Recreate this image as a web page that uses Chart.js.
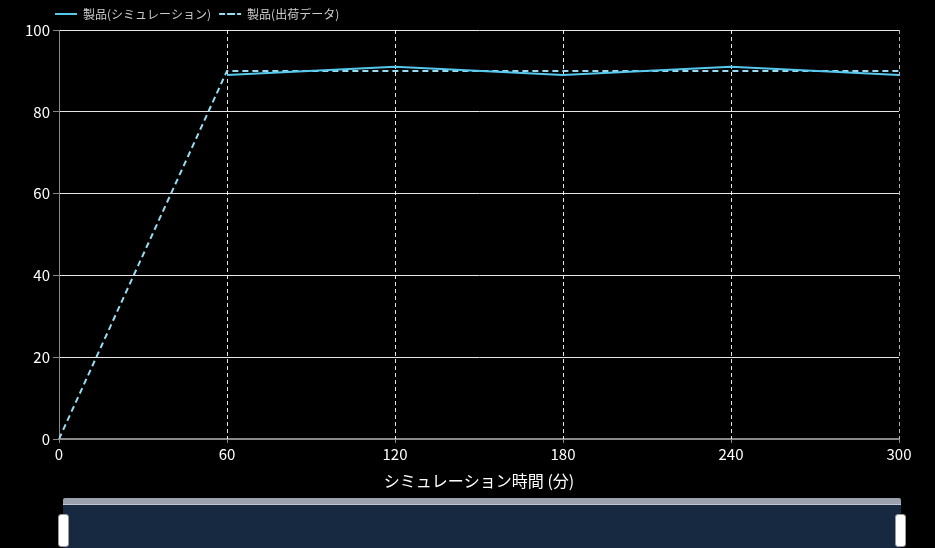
<!DOCTYPE html>
<html>
<head>
<meta charset="utf-8">
<script src="https://cdn.jsdelivr.net/npm/chart.js@4"></script>
<style>
  html, body { margin: 0; padding: 0; background: #000; overflow: hidden; }
  #wrap { position: relative; width: 935px; height: 548px; }
  #chart-box { position: absolute; left: 0; top: 0; width: 935px; height: 495px; }
  #nav-bar { position: absolute; left: 63px; top: 498px; width: 838px; height: 6px; background: #9aa0ad; border-radius: 2px 2px 0 0; }
  #nav-body { position: absolute; left: 63px; top: 504px; width: 838px; height: 44px; background: #172841; border-top: 1px solid #c0c8d8; }
  .handle { position: absolute; top: 514px; width: 9px; height: 31px; background: #fff; border-radius: 3px; border: 1px solid #999; }
</style>
</head>
<body>
<div id="wrap">
  <div id="chart-box"><canvas id="chart"></canvas></div>
  <div id="nav-bar"></div>
  <div id="nav-body"></div>
  <div class="handle" style="left:58px"></div>
  <div class="handle" style="left:895px"></div>
</div>
<script>
// 時間 (分)
const minutes = [0, 60, 120, 180, 240, 300];
// 系列 (シミュレーションは 60 分から)
const simulation = [null, 89, 91, 89, 91, 89];
const shipment = [0, 90, 90, 90, 90, 90];
const seriesLabels = ['製品(シミュレーション)', '製品(出荷データ)'];
const xTitle = 'シミュレーション時間 (分)';

const toPoints = values => values.map((v, i) => ({ x: minutes[i], y: v }));

Chart.defaults.font.family = '"Noto Sans CJK JP", "Noto Sans", sans-serif';
Chart.defaults.color = '#fff';

new Chart(document.getElementById('chart'), {
  type: 'line',
  data: {
    datasets: [{
      label: seriesLabels[0],
      data: toPoints(simulation),
      borderColor: '#56c8ee',
      backgroundColor: '#56c8ee',
      borderWidth: 2,
      pointRadius: 0,
      fill: false
    }, {
      label: seriesLabels[1],
      data: toPoints(shipment),
      borderColor: '#98dcf2',
      backgroundColor: '#98dcf2',
      borderWidth: 2,
      borderDash: [6, 4],
      pointRadius: 0,
      fill: false
    }]
  },
  options: {
    responsive: true,
    maintainAspectRatio: false,
    animation: false,
    layout: { padding: { left: 0, right: 36, top: 0, bottom: 0 } },
    plugins: {
      legend: {
        align: 'start',
        labels: {
          font: { size: 12 },
          color: '#ccc',
          boxWidth: 22,
          boxHeight: 0,
          padding: 8
        }
      },
      tooltip: { enabled: false }
    },
    scales: {
      x: {
        type: 'linear',
        min: 0,
        max: 300,
        ticks: { stepSize: 60, color: '#fff', font: { size: 15 }, padding: 2 },
        grid: { drawOnChartArea: false, tickColor: '#888', tickLength: 4 },
        border: { color: '#888', width: 2 },
        title: { display: true, text: xTitle, color: '#fff', font: { size: 16 }, padding: { top: 2 } },
        afterFit: scale => { scale.height = 56; }
      },
      y: {
        min: 0,
        max: 100,
        ticks: { stepSize: 20, color: '#fff', font: { size: 15 }, padding: 3 },
        grid: {
          color: ctx => (ctx.tick && ctx.tick.value === 0 ? '#888' : 'rgba(255,255,255,0.9)'),
          tickColor: '#888',
          tickLength: 6,
          lineWidth: 1
        },
        border: { color: '#888', width: 1 },
        afterFit: scale => { scale.width = 59; }
      }
    }
  },
  plugins: [{
    id: 'legendShift',
    afterLayout(chart) {
      chart.legend.left = 47;
    }
  }, {
    id: 'dashedXGrid',
    beforeDatasetsDraw(chart) {
      const { ctx, chartArea, scales } = chart;
      ctx.save();
      ctx.lineWidth = 1;
      ctx.setLineDash([4, 3]);
      minutes.slice(1).forEach((m, i, arr) => {
        const px = Math.round(scales.x.getPixelForValue(m)) + 0.5;
        ctx.strokeStyle = i === arr.length - 1 ? 'rgba(200,200,200,0.9)' : 'rgba(255,255,255,0.9)';
        ctx.beginPath();
        ctx.moveTo(px, chartArea.top);
        ctx.lineTo(px, chartArea.bottom);
        ctx.stroke();
      });
      ctx.restore();
    }
  }]
});
</script>
</body>
</html>
